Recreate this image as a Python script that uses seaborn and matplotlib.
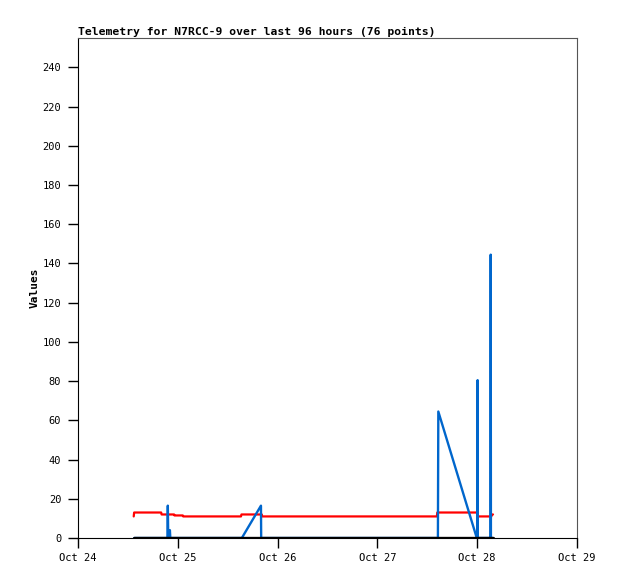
import pandas as pd
import seaborn as sns
import matplotlib.pyplot as plt
import matplotlib.dates as mdates

# hours after Oct 24 00:00
red_hours = [13.4, 13.5, 20.0, 20.1, 23.1, 23.2, 25.2, 25.3, 39.2, 39.3, 44.2, 44.3,
             86.3, 86.4, 96.1, 96.2, 99.4, 99.5, 99.8]
red_values = [11, 13, 13, 12, 12, 11.5, 11.5, 11, 11, 12, 12, 11,
              11, 13, 13, 11, 11, 12, 12]

blue_hours = [13.5, 21.5, 21.6, 21.7, 22.1, 22.2, 39.4, 44.0, 44.05, 86.55, 86.65,
              95.9, 96.0, 96.1, 96.15, 99.2, 99.25, 99.3, 99.8]
blue_values = [0, 0, 16.5, 0, 4, 0, 0, 16.5, 0, 0, 64.5,
               0, 0, 80.5, 0, 0, 144.5, 0, 0]

black_hours = [13.4, 99.8]
black_values = [0, 0]

title = "Telemetry for N7RCC-9 over last 96 hours (76 points)"
start = pd.Timestamp("2024-10-24")


def frame(hours, values):
    return pd.DataFrame({"time": start + pd.to_timedelta(hours, unit="h"),
                         "value": values})


sns.set_style("white")
plt.rcParams['font.family'] = ['DejaVu Sans Mono']
plt.rcParams['text.color'] = 'black'
plt.rcParams['axes.labelcolor'] = 'black'
plt.rcParams['xtick.color'] = 'black'
plt.rcParams['ytick.color'] = 'black'

fig = plt.figure(figsize=(6.18, 5.79), dpi=100)
ax = fig.add_axes([78 / 618, 1 - 538 / 579, 499 / 618, 500 / 579])

sns.lineplot(data=frame(red_hours, red_values), x="time", y="value", sort=False,
             color="#ff0000", linewidth=1.6, ax=ax, zorder=2)
sns.lineplot(data=frame(blue_hours, blue_values), x="time", y="value", sort=False,
             color="#0066cc", linewidth=1.7, ax=ax, zorder=3)
sns.lineplot(data=frame(black_hours, black_values), x="time", y="value", sort=False,
             color="#000000", linewidth=2.4, ax=ax, zorder=4)

ax.set_xlim(start, start + pd.Timedelta(days=5))
ax.set_ylim(0, 255)
ax.set_yticks(range(0, 241, 20))
ax.xaxis.set_major_locator(mdates.DayLocator())
ax.xaxis.set_major_formatter(mdates.DateFormatter("%b %d"))

ax.tick_params(axis="y", direction="out", length=7, width=1, labelsize=7.5, pad=5)
ax.tick_params(axis="x", direction="out", length=7, width=1, labelsize=7.5, pad=4)
ax.tick_params(left=True, bottom=True)

for side in ["left", "bottom"]:
    ax.spines[side].set_color("black")
for side in ["top", "right"]:
    ax.spines[side].set_color("#555555")

ax.set_xlabel("")
ax.set_ylabel("Values", fontsize=8, fontweight="bold", labelpad=2)
ax.set_title(title, loc="left", fontsize=8.2, fontweight="bold", pad=2)

fig.savefig("out.png", dpi=100)
